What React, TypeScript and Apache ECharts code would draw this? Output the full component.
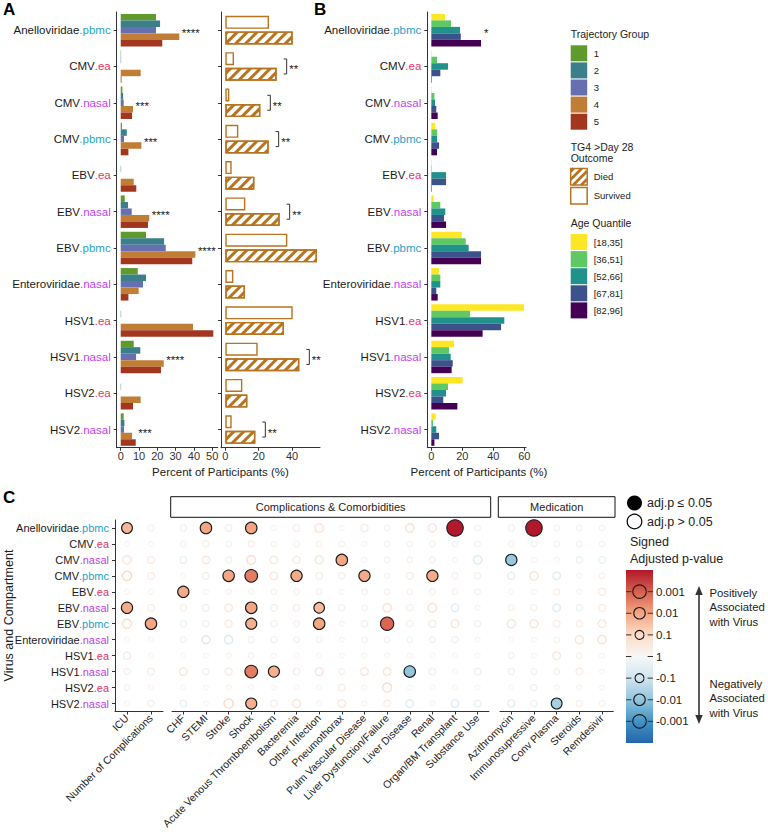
import React, { useEffect, useRef } from 'react';
import * as echarts from 'echarts';

const FONT = "'Liberation Sans', Arial, Helvetica, sans-serif";

// ---------- categories ----------
const virusLabels = [
  'Anelloviridae.pbmc', 'CMV.ea', 'CMV.nasal', 'CMV.pbmc', 'EBV.ea', 'EBV.nasal',
  'EBV.pbmc', 'Enteroviridae.nasal', 'HSV1.ea', 'HSV1.nasal', 'HSV2.ea', 'HSV2.nasal',
];
const compartmentColors: Record<string, string> = { ea: '#E8336B', nasal: '#C23FF2', pbmc: '#1FA3CB' };

// ---------- Panel A: trajectory groups (% of participants) ----------
const trajectoryGroups = ['1', '2', '3', '4', '5'];
const trajectoryColors = ['#5E9A2C', '#3A7F8A', '#6670B0', '#C07D35', '#A3361F'];
const tg1 = [19.3, 0.2, 0.9, 0.7, 0, 2.2, 13.8, 9.3, 0, 7.1, 0, 1.6];
const tg2 = [21.5, 0.2, 1.3, 3.3, 0.2, 4.0, 23.7, 13.8, 0.2, 10.7, 0.2, 2.0];
const tg3 = [19.3, 0, 1.6, 1.8, 0, 6.0, 24.6, 12.2, 0, 8.4, 0, 1.8];
const tg4 = [32.0, 10.9, 6.7, 11.3, 7.1, 15.6, 40.8, 9.8, 39.5, 23.5, 10.9, 6.2];
const tg5 = [22.7, 0.4, 6.2, 4.2, 8.5, 14.9, 39.1, 4.2, 50.6, 22.0, 6.7, 8.2];
const trajectoryValues = [tg1, tg2, tg3, tg4, tg5];
const trajectoryStars = ['****', '', '***', '***', '', '****', '****', '', '', '****', '', '***'];
const ticksTrajectory = [0, 10, 20, 30, 40, 50];

// ---------- Panel A: TG4 outcome ----------
const outcomeGroups = ['Died', 'Survived'];
const outcomeColor = '#B8731F';
const survived = [26.2, 5.2, 2.4, 7.8, 3.8, 12.0, 37.2, 4.8, 40.4, 19.4, 10.2, 3.8];
const died = [40.4, 30.8, 21.0, 26.0, 17.4, 32.6, 55.0, 11.8, 35.2, 44.4, 13.2, 18.0];
const outcomeStars = ['', '**', '**', '**', '', '**', '', '', '', '**', '', '**'];
const ticksOutcome = [0, 20, 40];

// ---------- Panel B: age quantiles ----------
const ageGroups = ['[18,35]', '[36,51]', '[52,66]', '[67,81]', '[82,96]'];
const ageColors = ['#FDE725', '#5EC962', '#21918C', '#3B528B', '#440154'];
const age1 = [8.8, 0.3, 0.3, 2.4, 0.3, 1.5, 19.6, 5.0, 59.8, 14.6, 20.2, 2.8];
const age2 = [12.7, 3.7, 2.0, 3.7, 0.3, 5.8, 22.2, 5.8, 25.0, 11.4, 10.8, 1.1];
const age3 = [18.5, 10.8, 2.4, 3.7, 9.5, 9.0, 24.1, 5.8, 47.1, 12.5, 9.5, 3.2];
const age4 = [19.0, 5.8, 3.2, 5.0, 9.5, 8.2, 32.1, 3.2, 45.0, 13.8, 7.7, 5.0];
const age5 = [32.1, 0.3, 4.1, 3.7, 0.3, 9.5, 32.1, 4.1, 33.1, 13.1, 16.8, 2.0];
const ageValues = [age1, age2, age3, age4, age5];
const ageStars = ['*', '', '', '', '', '', '', '', '', '', '', ''];
const ticksAge = [0, 20, 40, 60];

// ---------- Panel C: signed -log10(adj p) ----------
const clinicalVarsGeneral = ['ICU', 'Number of Complications'];
const clinicalVarsComplications = [
  'CHF', 'STEMI', 'Stroke', 'Shock', 'Acute Venous Thromboembolism', 'Bacteremia',
  'Other Infection', 'Pneumothorax', 'Pulm Vascular Disease', 'Liver Dysfunction/Failure',
  'Liver Disease', 'Renal', 'Organ/BM Transplant', 'Substance Use',
];
const clinicalVarsMedication = ['Azithromycin', 'Immunosupressive', 'Conv Plasma', 'Steroids', 'Remdesivir'];
const sigAnello = [1.7, 0.3, 0.3, 2.0, 0.4, 2.0, 0.1, 0.4, 0.9, 0.1, 0.5, 0.2, 0.8, 0.7, 5.0, 0.2, 0.3, 5.0, 0.2, 0.2, 0.2];
const sigCMVea = [0.1, 0.1, 0.2, 0.3, -0.2, 0.3, 0.2, 0.2, 0.2, 0.2, 0.1, 0.2, 0.2, 0.2, -0.2, 0.2, 0.2, 0.2, 0.2, 0.2, 0.2];
const sigCMVnasal = [0.8, 0.4, -0.4, 0.6, 0.3, 0.9, 0.6, 0.5, 0.7, 2.0, 0.1, 0.2, 0.2, 0.2, 0.1, -0.8, -1.9, 0.1, 0.1, -0.3, -0.4];
const sigCMVpbmc = [1.1, 0.4, 0.1, 0.4, 2.0, 2.6, 0.6, 1.9, 0.4, 0.3, 1.9, 0.1, 0.4, 1.9, 0.3, 0.3, -0.5, 0.8, -0.6, 0.1, 0.2];
const sigEBVea = [0.1, 0.1, 1.9, 0.1, 0.1, 0.1, 0.2, 0.2, 0.2, 0.1, 0.2, 0.2, 0.2, 0.2, 0.2, 0.2, 0.1, 0.1, 0.3, 0.1, 0.5];
const sigEBVnasal = [1.9, 0.4, 0.3, 0.4, 0.6, 2.0, 0.4, 0.4, 1.6, 0.3, 0.2, 0.8, 0.3, 0.9, -0.6, 0.1, 0.2, 0.3, -0.6, -0.3, 0.4];
const sigEBVpbmc = [1.0, 2.0, -0.3, -0.3, 0.5, 1.8, 0.3, 0.2, 2.0, 0.1, -0.3, 2.9, 0.3, 0.5, 0.7, -0.3, 0.8, 0.7, 0.4, 0.3, 0.6];
const sigEntero = [0.1, -0.1, -0.2, -0.7, -0.8, -0.3, -0.3, -0.2, -0.2, 0.1, -0.2, -0.2, -0.2, -0.2, -0.3, 0.1, 0.1, 0.1, 0.2, 0.7, 0.8];
const sigHSV1ea = [0.5, 0.1, 0.1, 0.1, 0.1, 0.2, 0.1, 0.1, 0.1, 0.1, 0.1, 0.1, 0.1, 0.1, 0.1, 0.1, 0.2, 0.1, 0.6, 0.2, 0.1];
const sigHSV1nasal = [0.3, 0.4, 0.6, 0.3, 0.5, 2.6, 1.8, 0.4, 0.7, 0.2, 0.6, 0.6, -2.0, 0.4, 0.1, -0.4, -0.3, -0.2, 0.2, 0.4, 0.1];
const sigHSV2ea = [0.2, 0.1, 0.1, 0.1, 0.1, 0.1, 0.1, 0.1, 0.1, 0.4, 0.1, 1.0, 0.1, 0.1, 0.1, 0.1, 0.1, -0.3, 0.1, 0.1, 0.1];
const sigHSV2nasal = [0.1, 0.3, -0.4, 0.1, 1.1, 1.8, 0.4, 0.7, 0.1, 0.6, 0.1, 0.4, -0.6, 0.1, -0.6, -0.4, -0.5, -0.3, -1.7, 0.3, 0.2];
const signedRows = [sigAnello, sigCMVea, sigCMVnasal, sigCMVpbmc, sigEBVea, sigEBVnasal, sigEBVpbmc, sigEntero, sigHSV1ea, sigHSV1nasal, sigHSV2ea, sigHSV2nasal];
const sigThreshold = 1.3; // -log10(0.05)
const colorbarTicks = [3, 2, 1, 0, -1, -2, -3];
const colorbarLabels = ['0.001', '0.01', '0.1', '1', '-0.1', '-0.01', '-0.001'];
const rdbuStops = ['#2166ac', '#4393c3', '#92c5de', '#d1e5f0', '#f7f7f7', '#fddbc7', '#f4a582', '#d6604d', '#b2182b'];
const colorMin = -4;
const colorMax = 4;

// ---------- helpers ----------
const scoreColor = (s: number) =>
  echarts.color.lerp(Math.min(1, Math.max(0, (s - colorMin) / (colorMax - colorMin))), rdbuStops) as string;
const scoreSize = (s: number) => 3 + 6 * Math.sqrt(Math.abs(s));

const labelFormatter = (value: string) => {
  const i = value.indexOf('.');
  const a = value.slice(0, i);
  const b = value.slice(i + 1);
  return `{v|${a}}{${b}|.${b}}`;
};
const richFor = (fontSize: number) => ({
  v: { color: '#1a1a1a', fontSize, fontFamily: FONT },
  ea: { color: compartmentColors.ea, fontSize, fontFamily: FONT },
  nasal: { color: compartmentColors.nasal, fontSize, fontFamily: FONT },
  pbmc: { color: compartmentColors.pbmc, fontSize, fontFamily: FONT },
});

const AX = '#333';

function valueAxis(gridIndex: number, min: number, max: number, ticks: number[]) {
  return {
    type: 'value', gridIndex, min, max,
    axisLine: { show: true, onZero: false, lineStyle: { color: AX, width: 1 } },
    axisTick: { show: true, length: 3, customValues: ticks, lineStyle: { color: AX } },
    axisLabel: { customValues: ticks, fontSize: 11, color: '#333', margin: 3, fontFamily: FONT },
    splitLine: { show: false },
  };
}
function catYAxis(gridIndex: number, showLabels: boolean, fontSize: number, show = true) {
  return {
    type: 'category', gridIndex, data: virusLabels, inverse: true, show,
    axisLine: { show: true, onZero: false, lineStyle: { color: AX, width: 1 } },
    axisTick: { show: true, alignWithLabel: true, length: 3, lineStyle: { color: AX } },
    axisLabel: { show: showLabels, interval: 0, margin: 6, formatter: labelFormatter, rich: richFor(fontSize) },
    splitLine: { show: false },
  };
}
function catXAxis(gridIndex: number, data: string[]) {
  return {
    type: 'category', gridIndex, data,
    axisLine: { show: true, onZero: false, lineStyle: { color: AX, width: 1 } },
    axisTick: { show: true, alignWithLabel: true, length: 3, lineStyle: { color: AX } },
    axisLabel: { interval: 0, rotate: 45, fontSize: 10.5, color: '#222', margin: 5, fontFamily: FONT },
    splitLine: { show: false },
  };
}

function buildOption() {
  const series: any[] = [];

  // Panel A left bars
  trajectoryValues.forEach((vals, i) => {
    series.push({
      type: 'bar', name: 'TG' + trajectoryGroups[i], xAxisIndex: 0, yAxisIndex: 0, data: vals,
      barWidth: 6.5, barGap: '0%', silent: true, itemStyle: { color: trajectoryColors[i] },
    });
  });
  const tgStarItems = virusLabels
    .map((_, i) => ({ x: Math.max(...trajectoryValues.map((a) => a[i])), i, text: trajectoryStars[i] }))
    .filter((d) => d.text);
  series.push({
    type: 'custom', xAxisIndex: 0, yAxisIndex: 0, silent: true, z: 5,
    data: tgStarItems.map((d) => [d.x, d.i]),
    renderItem: (params: any, api: any) => {
      const d = tgStarItems[params.dataIndex];
      const p = api.coord([d.x, d.i]);
      return {
        type: 'text', x: p[0] + 2.5, y: p[1] + 3,
        style: { text: d.text, fill: '#1a1a1a', fontSize: 11.5, fontFamily: FONT, align: 'left', verticalAlign: 'middle' },
      };
    },
  });

  // Panel A right: outcome
  series.push({
    type: 'bar', name: 'Survived', xAxisIndex: 1, yAxisIndex: 1, data: survived,
    barWidth: 13, barGap: '20%', silent: true,
    itemStyle: { color: '#fff', borderColor: outcomeColor, borderWidth: 1.4 },
  });
  series.push({
    type: 'bar', name: 'Died', xAxisIndex: 1, yAxisIndex: 1, data: died,
    barWidth: 13, barGap: '20%', silent: true,
    itemStyle: {
      color: '#fff', borderColor: outcomeColor, borderWidth: 1.4,
      decal: {
        symbol: 'rect', symbolSize: 1, color: outcomeColor, backgroundColor: '#fff',
        dashArrayX: [1, 0], dashArrayY: [3, 3.2], rotation: -Math.PI / 4,
      },
    },
  });
  const outcomeSigItems = virusLabels
    .map((_, i) => ({ x: Math.max(died[i], survived[i]), i, text: outcomeStars[i] }))
    .filter((d) => d.text);
  series.push({
    type: 'custom', xAxisIndex: 1, yAxisIndex: 1, silent: true, z: 5,
    data: outcomeSigItems.map((d) => [d.x, d.i]),
    renderItem: (params: any, api: any) => {
      const d = outcomeSigItems[params.dataIndex];
      const p = api.coord([d.x, d.i]);
      const bx = p[0] + 10;
      return {
        type: 'group',
        children: [
          {
            type: 'polyline',
            shape: { points: [[bx - 3, p[1] - 7.5], [bx, p[1] - 7.5], [bx, p[1] + 7.5], [bx - 3, p[1] + 7.5]] },
            style: { stroke: '#333', lineWidth: 1, fill: 'none' },
          },
          {
            type: 'text', x: bx + 2.5, y: p[1] + 3,
            style: { text: d.text, fill: '#1a1a1a', fontSize: 11.5, fontFamily: FONT, align: 'left', verticalAlign: 'middle' },
          },
        ],
      };
    },
  });

  // Panel B bars
  ageValues.forEach((vals, i) => {
    series.push({
      type: 'bar', name: ageGroups[i], xAxisIndex: 2, yAxisIndex: 2, data: vals,
      barWidth: 6.5, barGap: '0%', silent: true, itemStyle: { color: ageColors[i] },
    });
  });
  const ageStarItems = virusLabels
    .map((_, i) => ({ x: Math.max(...ageValues.map((a) => a[i])), i, text: ageStars[i] }))
    .filter((d) => d.text);
  series.push({
    type: 'custom', xAxisIndex: 2, yAxisIndex: 2, silent: true, z: 5,
    data: ageStarItems.map((d) => [d.x, d.i]),
    renderItem: (params: any, api: any) => {
      const d = ageStarItems[params.dataIndex];
      const p = api.coord([d.x, d.i]);
      return {
        type: 'text', x: p[0] + 3, y: p[1] + 3,
        style: { text: d.text, fill: '#1a1a1a', fontSize: 11.5, fontFamily: FONT, align: 'left', verticalAlign: 'middle' },
      };
    },
  });

  // Panel C bubbles
  const facets = [clinicalVarsGeneral, clinicalVarsComplications, clinicalVarsMedication];
  let colOffset = 0;
  facets.forEach((vars, f) => {
    const data: any[] = [];
    signedRows.forEach((row, r) => {
      vars.forEach((v, c) => {
        const s = row[colOffset + c];
        const col = scoreColor(s);
        const sig = Math.abs(s) >= sigThreshold;
        data.push({
          value: [v, virusLabels[r], s],
          itemStyle: sig
            ? { color: col, borderColor: '#1a1a1a', borderWidth: 1.1, opacity: 1 }
            : { color: 'rgba(255,255,255,0)', borderColor: col, borderWidth: 1.3, opacity: 1 },
          z: sig ? 3 : 2,
        });
      });
    });
    colOffset += vars.length;
    series.push({
      type: 'scatter', xAxisIndex: 3 + f, yAxisIndex: 3 + f, silent: true,
      symbol: 'circle', symbolSize: (val: any) => scoreSize(val[2]), data,
    });
  });

  // ---------- graphic ----------
  const g: any[] = [];
  const txt = (x: number, y: number, text: string, extra: any = {}) => ({
    type: 'text', x, y, silent: true,
    style: { text, fill: '#222', fontSize: 11, fontFamily: FONT, align: 'left', verticalAlign: 'middle', ...extra },
  });
  g.push(txt(3, 9.5, 'A', { fontSize: 17, fontWeight: 'bold', fill: '#000' }));
  g.push(txt(314, 9.5, 'B', { fontSize: 17, fontWeight: 'bold', fill: '#000' }));
  g.push(txt(3, 497.5, 'C', { fontSize: 17, fontWeight: 'bold', fill: '#000' }));
  g.push(txt(220.5, 472, 'Percent of Participants (%)', { fontSize: 11.5, align: 'center' }));
  g.push(txt(479, 472, 'Percent of Participants (%)', { fontSize: 11.5, align: 'center' }));

  // legend: trajectory group
  const LX = 570.7;
  g.push(txt(LX, 34.3, 'Trajectory Group', { fontSize: 10.5 }));
  trajectoryGroups.forEach((t, i) => {
    const y = 45.3 + i * 17.1;
    g.push({ type: 'rect', silent: true, shape: { x: LX, y, width: 16.5, height: 16 }, style: { fill: trajectoryColors[i] } });
    g.push(txt(LX + 23, y + 8, t, { fontSize: 9.5 }));
  });
  // legend: outcome
  g.push(txt(LX, 146.7, 'TG4 >Day 28', { fontSize: 10.5 }));
  g.push(txt(LX, 158, 'Outcome', { fontSize: 10.5 }));
  const keyW = 16.5;
  const keyH = 16.5;
  outcomeGroups.forEach((name, i) => {
    const y = 168.5 + i * 19;
    g.push({ type: 'rect', silent: true, shape: { x: LX, y, width: keyW, height: keyH }, style: { fill: '#fff' } });
    if (name === 'Died') {
      for (let c = 3; c < keyW + keyH; c += 8) {
        const x0 = Math.max(0, c - keyH);
        const x1 = Math.min(keyW, c);
        g.push({
          type: 'line', silent: true,
          shape: { x1: LX + x0, y1: y + c - x0, x2: LX + x1, y2: y + c - x1 },
          style: { stroke: outcomeColor, lineWidth: 2.6 },
        });
      }
    }
    g.push({
      type: 'rect', silent: true, shape: { x: LX, y, width: keyW, height: keyH },
      style: { fill: 'none', stroke: outcomeColor, lineWidth: 1.5 },
    });
    g.push(txt(LX + 23, y + keyH / 2, name, { fontSize: 9.5 }));
  });
  // legend: age
  g.push(txt(LX, 222.7, 'Age Quantile', { fontSize: 10.5 }));
  ageGroups.forEach((t, i) => {
    const y = 234 + i * 17.1;
    g.push({ type: 'rect', silent: true, shape: { x: LX, y, width: 16.5, height: 16 }, style: { fill: ageColors[i] } });
    g.push(txt(LX + 23, y + 8, t, { fontSize: 9.5 }));
  });

  // Panel C facet strips
  g.push({ type: 'rect', silent: true, shape: { x: 170.7, y: 496.7, width: 320, height: 20.6 }, style: { fill: '#fff', stroke: '#111', lineWidth: 1 } });
  g.push(txt(330.7, 507, 'Complications & Comorbidities', { fontSize: 11, align: 'center' }));
  g.push({ type: 'rect', silent: true, shape: { x: 498.3, y: 496.7, width: 116.7, height: 20.6 }, style: { fill: '#fff', stroke: '#111', lineWidth: 1 } });
  g.push(txt(556.7, 507, 'Medication', { fontSize: 11, align: 'center' }));

  // y title
  g.push({
    type: 'text', silent: true, x: 9, y: 615.5, rotation: Math.PI / 2,
    style: { text: 'Virus and Compartment', fill: '#222', fontSize: 12.5, fontFamily: FONT, align: 'center', verticalAlign: 'middle' },
  });

  // significance legend
  g.push({ type: 'circle', silent: true, shape: { cx: 634.5, cy: 503, r: 7.5 }, style: { fill: '#000' } });
  g.push(txt(647, 503, 'adj.p \u2264 0.05', { fontSize: 12.5 }));
  g.push({ type: 'circle', silent: true, shape: { cx: 634.5, cy: 521.5, r: 7.3 }, style: { fill: '#fff', stroke: '#000', lineWidth: 1.2 } });
  g.push(txt(647, 521.5, 'adj.p > 0.05', { fontSize: 12.5 }));
  g.push(txt(630, 542, 'Signed', { fontSize: 12.5 }));
  g.push(txt(630, 558.5, 'Adjusted p-value', { fontSize: 12.5 }));

  // colorbar
  const cbX = 626;
  const cbY = 570;
  const cbW = 27;
  const cbH = 173;
  const stopsTopDown = rdbuStops.slice().reverse();
  g.push({
    type: 'rect', silent: true, shape: { x: cbX, y: cbY, width: cbW, height: cbH },
    style: {
      fill: new echarts.graphic.LinearGradient(0, 0, 0, 1,
        stopsTopDown.map((c, i) => ({ offset: i / (stopsTopDown.length - 1), color: c }))),
    },
  });
  const cbYof = (s: number) => cbY + ((colorMax - s) / (colorMax - colorMin)) * cbH;
  colorbarTicks.forEach((s, i) => {
    const y = cbYof(s);
    g.push({ type: 'line', silent: true, shape: { x1: cbX, y1: y, x2: cbX + 5.4, y2: y }, style: { stroke: '#333', lineWidth: 1 } });
    g.push({ type: 'line', silent: true, shape: { x1: cbX + cbW - 5.4, y1: y, x2: cbX + cbW, y2: y }, style: { stroke: '#333', lineWidth: 1 } });
    if (s !== 0) {
      g.push({
        type: 'circle', silent: true, shape: { cx: cbX + cbW / 2, cy: y, r: scoreSize(s) / 2 },
        style: { fill: 'none', stroke: '#1a1a1a', lineWidth: 1.1 },
      });
    }
    g.push(txt(cbX + cbW + 3, y, colorbarLabels[i], { fontSize: 11.5 }));
  });

  // arrow
  g.push({ type: 'line', silent: true, shape: { x1: 699, y1: 592, x2: 699, y2: 718 }, style: { stroke: '#333', lineWidth: 1.6 } });
  g.push({ type: 'polygon', silent: true, shape: { points: [[699, 586], [695.3, 595], [702.7, 595]] }, style: { fill: '#333' } });
  g.push({ type: 'polygon', silent: true, shape: { points: [[699, 724], [695.3, 715], [702.7, 715]] }, style: { fill: '#333' } });
  ['Positively', 'Associated', 'with Virus'].forEach((t, i) => g.push(txt(709.5, 593 + i * 14.3, t, { fontSize: 11.3 })));
  ['Negatively', 'Associated', 'with Virus'].forEach((t, i) => g.push(txt(709.5, 684 + i * 14.3, t, { fontSize: 11.3 })));

  return {
    animation: false,
    backgroundColor: '#fff',
    textStyle: { fontFamily: FONT },
    grid: [
      { left: 116.7, top: 12, width: 101, height: 435.7, outerBoundsMode: 'none' },
      { left: 221, top: 12, width: 99, height: 435.7, outerBoundsMode: 'none' },
      { left: 427.3, top: 12, width: 98.7, height: 435.7, outerBoundsMode: 'none' },
      { left: 115, top: 520, width: 48, height: 191.5, outerBoundsMode: 'none' },
      { left: 172, top: 520, width: 317, height: 191.5, outerBoundsMode: 'none' },
      { left: 500, top: 520, width: 113.3, height: 191.5, outerBoundsMode: 'none' },
    ],
    xAxis: [
      valueAxis(0, -2.2, 53, ticksTrajectory),
      valueAxis(1, -2.6, 56.8, ticksOutcome),
      valueAxis(2, -2.6, 61.1, ticksAge),
      catXAxis(3, clinicalVarsGeneral),
      catXAxis(4, clinicalVarsComplications),
      catXAxis(5, clinicalVarsMedication),
    ],
    yAxis: [
      catYAxis(0, true, 11.5),
      catYAxis(1, false, 11.5),
      catYAxis(2, true, 11.5),
      catYAxis(3, true, 11),
      catYAxis(4, false, 11, false),
      catYAxis(5, false, 11, false),
    ],
    series,
    graphic: { elements: g },
  };
}

export default function App() {
  const ref = useRef<HTMLDivElement>(null);
  useEffect(() => {
    const chart = echarts.init(ref.current as HTMLDivElement, null, { renderer: 'svg' });
    chart.setOption(buildOption() as any);
    return () => chart.dispose();
  }, []);
  return (
    <div
      ref={ref}
      style={{ position: 'absolute', left: 0, top: 0, width: 768, height: 840, background: '#fff' }}
    />
  );
}
